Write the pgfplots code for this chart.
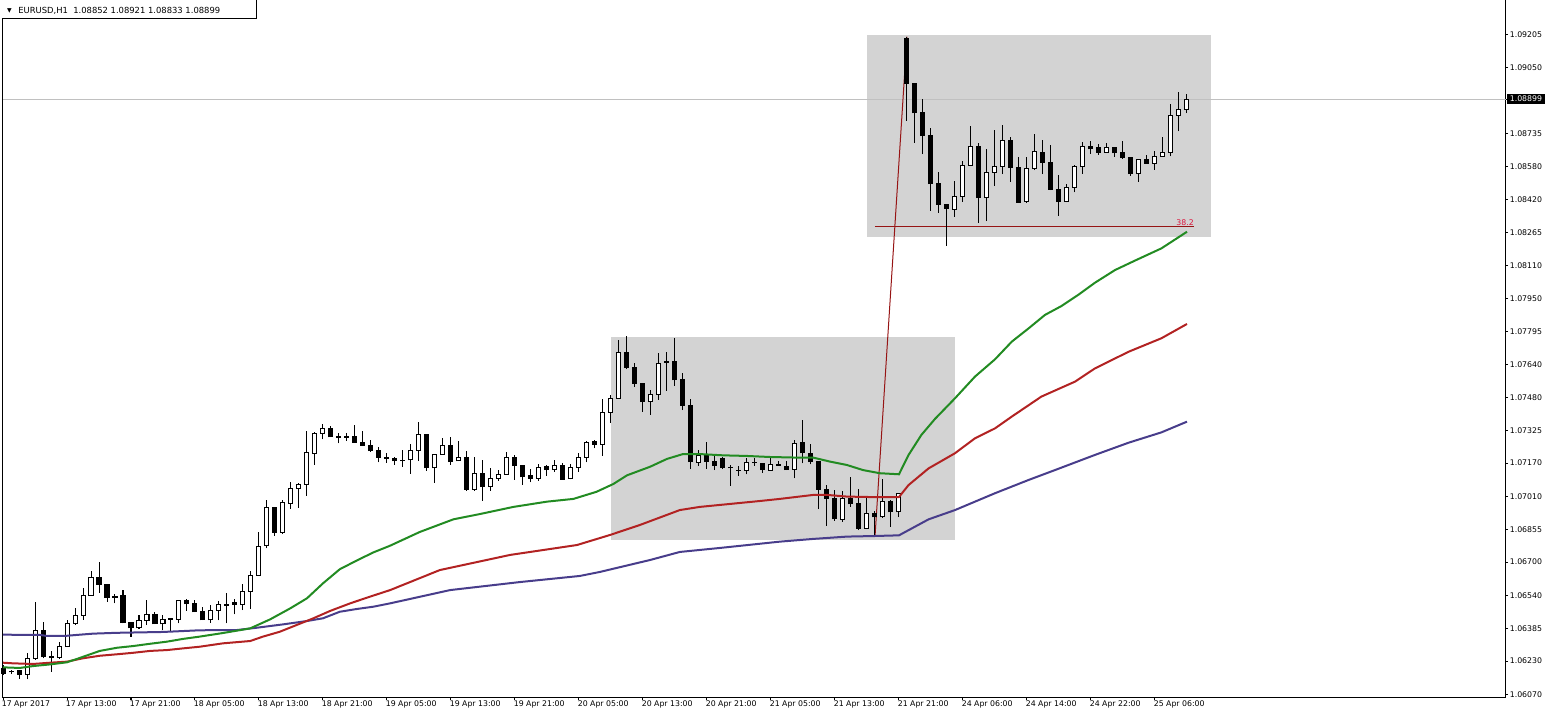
\documentclass[border=0pt]{standalone}
\usepackage{fontspec}
\setmainfont{DejaVu Sans}
\usepackage{pgfplots}
\usepackage{pgfplotstable}
\pgfplotsset{compat=1.18}
\usetikzlibrary{calc}

\definecolor{maGreen}{RGB}{34,139,34}
\definecolor{maRed}{RGB}{178,34,34}
\definecolor{maBlue}{RGB}{72,61,139}
\definecolor{boxGray}{RGB}{211,211,211}
\definecolor{priceGray}{RGB}{192,192,192}
\definecolor{fibLine}{RGB}{150,20,20}
\definecolor{fibText}{RGB}{220,20,60}

% EURUSD H1 candles, x = bar index, O H L C
\pgfplotstableread{
i O H L C
3 1.06167 1.06267 1.06143 1.06243
4 1.06243 1.06512 1.06235 1.06376
7 1.06246 1.06319 1.06241 1.06300
8 1.06298 1.06425 1.06296 1.06409
9 1.06409 1.06480 1.06400 1.06447
10 1.06447 1.06575 1.06425 1.06542
11 1.06542 1.06656 1.06540 1.06628
17 1.06388 1.06447 1.06383 1.06423
18 1.06423 1.06520 1.06400 1.06453
20 1.06407 1.06447 1.06376 1.06428
22 1.06428 1.06520 1.06409 1.06518
26 1.06426 1.06495 1.06412 1.06471
27 1.06471 1.06514 1.06423 1.06499
30 1.06498 1.06596 1.06472 1.06561
31 1.06561 1.06658 1.06479 1.06637
32 1.06637 1.06843 1.06635 1.06775
33 1.06778 1.06995 1.06765 1.06960
35 1.06841 1.06995 1.06833 1.06984
36 1.06979 1.07080 1.06954 1.07049
37 1.07049 1.07074 1.06958 1.07069
38 1.07069 1.07323 1.07015 1.07221
39 1.07217 1.07316 1.07162 1.07312
40 1.07312 1.07354 1.07283 1.07335
51 1.07185 1.07261 1.07120 1.07231
52 1.07231 1.07364 1.07180 1.07307
54 1.07148 1.07215 1.07077 1.07212
55 1.07212 1.07288 1.07210 1.07255
57 1.07181 1.07274 1.07179 1.07198
59 1.07046 1.07198 1.07039 1.07122
61 1.07058 1.07145 1.07039 1.07098
62 1.07098 1.07136 1.07086 1.07117
63 1.07117 1.07221 1.07115 1.07198
67 1.07099 1.07164 1.07086 1.07150
69 1.07139 1.07184 1.07129 1.07160
71 1.07096 1.07164 1.07093 1.07150
72 1.07150 1.07217 1.07129 1.07198
73 1.07198 1.07274 1.07174 1.07269
75 1.07259 1.07475 1.07204 1.07411
76 1.07411 1.07494 1.07362 1.07478
77 1.07478 1.07755 1.07476 1.07696
81 1.07462 1.07517 1.07399 1.07497
82 1.07497 1.07692 1.07470 1.07644
87 1.07174 1.07232 1.07156 1.07204
93 1.07135 1.07196 1.07117 1.07174
96 1.07136 1.07193 1.07134 1.07164
99 1.07141 1.07280 1.07097 1.07264
105 1.06903 1.07039 1.06892 1.07003
108 1.06860 1.07006 1.06856 1.06932
110 1.06915 1.07094 1.06910 1.06990
112 1.06939 1.07030 1.06913 1.07027
119 1.08376 1.08510 1.08341 1.08437
120 1.08437 1.08604 1.08412 1.08585
121 1.08585 1.08771 1.08583 1.08675
123 1.08431 1.08662 1.08320 1.08551
124 1.08551 1.08752 1.08488 1.08580
125 1.08580 1.08775 1.08543 1.08703
128 1.08412 1.08625 1.08407 1.08570
129 1.08570 1.08732 1.08562 1.08651
133 1.08412 1.08494 1.08409 1.08480
134 1.08480 1.08586 1.08456 1.08580
135 1.08578 1.08695 1.08545 1.08675
138 1.08646 1.08691 1.08644 1.08670
142 1.08545 1.08613 1.08507 1.08613
144 1.08594 1.08653 1.08564 1.08627
145 1.08627 1.08719 1.08625 1.08646
146 1.08646 1.08874 1.08627 1.08822
147 1.08822 1.08931 1.08746 1.08852
148 1.08852 1.08921 1.08833 1.08899
}\bull

\pgfplotstableread{
i O H L C
0 1.06195 1.06211 1.06164 1.06173
1 1.06181 1.06187 1.06168 1.06178
2 1.06187 1.06189 1.06146 1.06165
5 1.06376 1.06415 1.06243 1.06250
6 1.06250 1.06278 1.06179 1.06246
12 1.06628 1.06700 1.06554 1.06594
13 1.06594 1.06596 1.06512 1.06533
14 1.06536 1.06547 1.06504 1.06533
15 1.06542 1.06567 1.06409 1.06412
16 1.06414 1.06416 1.06345 1.06388
19 1.06452 1.06463 1.06405 1.06407
21 1.06431 1.06432 1.06374 1.06428
23 1.06518 1.06523 1.06469 1.06502
24 1.06502 1.06518 1.06462 1.06464
25 1.06464 1.06487 1.06424 1.06426
28 1.06499 1.06553 1.06409 1.06496
29 1.06506 1.06526 1.06452 1.06499
34 1.06960 1.06962 1.06825 1.06841
41 1.07335 1.07346 1.07293 1.07295
42 1.07295 1.07312 1.07264 1.07293
43 1.07297 1.07312 1.07276 1.07294
44 1.07297 1.07351 1.07267 1.07269
45 1.07269 1.07323 1.07251 1.07255
46 1.07255 1.07280 1.07224 1.07229
47 1.07229 1.07247 1.07174 1.07198
48 1.07198 1.07217 1.07172 1.07191
49 1.07191 1.07200 1.07162 1.07181
50 1.07183 1.07232 1.07153 1.07181
53 1.07307 1.07310 1.07134 1.07148
56 1.07255 1.07293 1.07162 1.07177
58 1.07198 1.07226 1.07039 1.07046
60 1.07122 1.07184 1.06992 1.07058
64 1.07198 1.07207 1.07091 1.07158
65 1.07158 1.07160 1.07067 1.07105
66 1.07110 1.07141 1.07079 1.07099
68 1.07152 1.07160 1.07110 1.07139
70 1.07160 1.07169 1.07093 1.07093
74 1.07272 1.07278 1.07240 1.07259
78 1.07696 1.07774 1.07616 1.07623
79 1.07623 1.07644 1.07533 1.07549
80 1.07549 1.07551 1.07414 1.07462
83 1.07652 1.07696 1.07513 1.07648
84 1.07652 1.07763 1.07538 1.07565
85 1.07565 1.07597 1.07422 1.07446
86 1.07446 1.07475 1.07142 1.07177
88 1.07204 1.07270 1.07142 1.07177
89 1.07180 1.07204 1.07137 1.07161
90 1.07190 1.07200 1.07142 1.07148
91 1.07150 1.07160 1.07063 1.07148
92 1.07137 1.07156 1.07110 1.07135
94 1.07174 1.07196 1.07158 1.07172
95 1.07169 1.07170 1.07125 1.07139
97 1.07163 1.07181 1.07159 1.07161
98 1.07156 1.07180 1.07137 1.07139
100 1.07269 1.07375 1.07169 1.07219
101 1.07217 1.07261 1.07164 1.07177
102 1.07177 1.07180 1.06952 1.07047
103 1.07047 1.07066 1.06873 1.07003
104 1.07003 1.07042 1.06897 1.06905
106 1.07003 1.07103 1.06963 1.06976
107 1.06976 1.07046 1.06852 1.06860
109 1.06932 1.06944 1.06820 1.06915
111 1.06990 1.06995 1.06868 1.06939
113 1.09188 1.09196 1.08797 1.08974
114 1.08974 1.08976 1.08692 1.08834
115 1.08834 1.08900 1.08638 1.08725
116 1.08725 1.08760 1.08368 1.08497
117 1.08497 1.08551 1.08360 1.08399
118 1.08399 1.08401 1.08203 1.08380
122 1.08675 1.08689 1.08312 1.08431
126 1.08703 1.08720 1.08507 1.08575
127 1.08575 1.08625 1.08407 1.08410
130 1.08646 1.08705 1.08543 1.08599
131 1.08599 1.08680 1.08467 1.08472
132 1.08472 1.08537 1.08345 1.08412
136 1.08675 1.08700 1.08640 1.08663
137 1.08670 1.08684 1.08635 1.08646
139 1.08670 1.08672 1.08626 1.08644
140 1.08646 1.08700 1.08616 1.08621
141 1.08621 1.08623 1.08535 1.08545
143 1.08613 1.08632 1.08594 1.08594
}\bear

\newcommand\tickfont{\fontsize{3.9}{4.7}\selectfont}

\begin{document}
\begin{tikzpicture}
\begin{axis}[
	name=main,
	scale only axis,
	width=751.5pt, height=348.75pt,
	xmin=-0.0375, xmax=187.84,
	ymin=1.060567, ymax=1.093698,
	clip=false,
	axis x line*=bottom, axis y line*=right,
	axis line style={black, line width=0.5pt},
	tick align=outside,
	major tick length=1.25pt,
	tick style={black, line width=0.5pt},
	scaled y ticks=false,
	xtick={0,8,...,144},
	xticklabels={17 Apr 2017, 17 Apr 13:00, 17 Apr 21:00, 18 Apr 05:00, 18 Apr 13:00, 18 Apr 21:00, 19 Apr 05:00, 19 Apr 13:00, 19 Apr 21:00, 20 Apr 05:00, 20 Apr 13:00, 20 Apr 21:00, 21 Apr 05:00, 21 Apr 13:00, 21 Apr 21:00, 24 Apr 06:00, 24 Apr 14:00, 24 Apr 22:00, 25 Apr 06:00},
	ytick={1.06070,1.06230,1.06385,1.06540,1.06700,1.06855,1.07010,1.07170,1.07325,1.07480,1.07640,1.07795,1.07950,1.08110,1.08265,1.08420,1.08580,1.08735,1.09050,1.09205},
	yticklabels={1.06070,1.06230,1.06385,1.06540,1.06700,1.06855,1.07010,1.07170,1.07325,1.07480,1.07640,1.07795,1.07950,1.08110,1.08265,1.08420,1.08580,1.08735,1.09050,1.09205},
	extra y ticks={1.08899},
	extra y tick labels={1.08899},
	extra y tick style={yticklabel style={fill=black, text=white, inner xsep=1.5pt, inner ysep=0.9pt, xshift=-1.5pt}},
	ticklabel style={font=\tickfont},
	xticklabel style={anchor=north west, inner sep=0pt, xshift=-0.8pt},
	yticklabel style={anchor=west, inner sep=0pt, xshift=0.6pt},
	candle/.style={draw=none, mark=none, forget plot,
		error bars/y dir=plus, error bars/y explicit, error bars/error mark=none},
	]

% boxes and lines drawn on the chart
\addplot[fill=boxGray, draw=none] coordinates {(76,1.06805) (119,1.06805) (119,1.07769) (76,1.07769)};
\addplot[fill=boxGray, draw=none] coordinates {(108,1.08244) (151,1.08244) (151,1.09204) (108,1.09204)};
\addplot[priceGray, line width=0.5pt] coordinates {(-0.0375,1.08899) (187.84,1.08899)};
\addplot[fibLine, line width=0.5pt] coordinates {(109,1.08292) (148.9,1.08292)};
\addplot[fibLine, line width=0.5pt] coordinates {(109,1.06820) (113,1.09196)};

% wicks
\addplot[candle, error bars/error bar style={draw=black, line width=0.5pt}]
	table[x=i, y=L, y error plus expr={\thisrow{H}-\thisrow{L}}] {\bull};
\addplot[candle, error bars/error bar style={draw=black, line width=0.5pt}]
	table[x=i, y=L, y error plus expr={\thisrow{H}-\thisrow{L}}] {\bear};

% bodies
\addplot[candle, error bars/error bar style={draw=black, line width=2.5pt, shorten <=-0.25pt, shorten >=-0.25pt}]
	table[x=i, y=O, y error plus expr={\thisrow{C}-\thisrow{O}}] {\bull};
\addplot[candle, error bars/error bar style={draw=black, line width=2.5pt, shorten <=-0.25pt, shorten >=-0.25pt}]
	table[x=i, y=C, y error plus expr={\thisrow{O}-\thisrow{C}}] {\bear};
\addplot[candle, error bars/error bar style={draw=white, line width=1.5pt, shorten <=0.25pt, shorten >=0.25pt}]
	table[x=i, y=O, y error plus expr={\thisrow{C}-\thisrow{O}}] {\bull};

% moving averages
\addplot[maBlue, line width=1pt] coordinates {
(0,1.06355) (4.6,1.06354) (5.5,1.06349) (8,1.06350) (9.25,1.06354) (11.25,1.06360) (14.25,1.06364) (20,1.06368) (24.6,1.06376) (29.2,1.06377) (31.7,1.06388) (35,1.06404) (38,1.06420) (40,1.06433) (42.1,1.06464) (44.2,1.06477) (46.3,1.06488) (48.4,1.06504) (55.9,1.06567) (64.6,1.06605) (72.1,1.06634) (74.6,1.06653) (80.9,1.06710) (84.6,1.06748) (89.6,1.06767) (97.1,1.06797) (101.3,1.06810) (105.5,1.06821) (109.2,1.06824) (112,1.06827) (115.7,1.06903) (119,1.06947) (124,1.07027) (128.2,1.07090) (131.5,1.07137) (136.5,1.07209) (140.7,1.07267) (144.8,1.07316) (148,1.07367)};
\addplot[maRed, line width=1pt] coordinates {
(0,1.06222) (1.25,1.06219) (3.75,1.06216) (5.9,1.06222) (8,1.06227) (10,1.06243) (12.1,1.06255) (14.25,1.06262) (16.25,1.06269) (18.4,1.06278) (20.5,1.06282) (22.5,1.06290) (24.6,1.06298) (27.5,1.06314) (30.9,1.06325) (32.5,1.06346) (34.6,1.06369) (36.7,1.06401) (38.8,1.06433) (40.9,1.06468) (43.4,1.06504) (45.9,1.06536) (48.4,1.06567) (54.6,1.06662) (63.4,1.06734) (71.75,1.06781) (75.9,1.06829) (79.6,1.06876) (84.6,1.06947) (87.1,1.06962) (94.6,1.06990) (97.1,1.07000) (101.3,1.07019) (103,1.07019) (105.5,1.07011) (109.6,1.07008) (112,1.07009) (113.2,1.07066) (115.7,1.07145) (119,1.07217) (121.5,1.07288) (124,1.07335) (126.1,1.07391) (129.8,1.07486) (134,1.07557) (136.5,1.07620) (140.7,1.07699) (144.8,1.07763) (148,1.07831)};
\addplot[maGreen, line width=1pt] coordinates {
(0,1.06200) (2.1,1.06197) (3.75,1.06206) (5.9,1.06214) (8,1.06224) (9.25,1.06240) (10.9,1.06262) (12.1,1.06278) (14.25,1.06293) (16.25,1.06301) (18.4,1.06312) (20.5,1.06322) (22.5,1.06335) (24.6,1.06346) (27.5,1.06363) (30.9,1.06385) (33.4,1.06428) (35.9,1.06480) (38,1.06528) (40,1.06599) (42.1,1.06666) (44.2,1.06707) (46.3,1.06746) (48.4,1.06778) (52.1,1.06843) (56.3,1.06903) (59.6,1.06928) (63.8,1.06962) (68,1.06987) (71.3,1.07000) (74.2,1.07034) (76.3,1.07071) (78,1.07112) (80.9,1.07153) (83,1.07190) (85,1.07213) (87.1,1.07213) (90,1.07207) (93,1.07204) (95.9,1.07199) (99.6,1.07196) (101.3,1.07196) (103.4,1.07177) (105.5,1.07161) (107.5,1.07137) (109.6,1.07122) (112,1.07117) (113.2,1.07209) (114.8,1.07304) (116.5,1.07380) (119,1.07478) (121.5,1.07581) (124,1.07663) (126.1,1.07747) (128.2,1.07810) (130.25,1.07874) (132.3,1.07916) (134.4,1.07969) (136.5,1.08027) (139,1.08087) (141.5,1.08132) (144.8,1.08190) (148,1.08269)};

\node[anchor=south east, inner sep=0pt, text=fibText, font=\tickfont] at (axis cs:148.9,1.08296) {38.2};

% window frame and symbol header
\draw[black, line width=0.5pt] (rel axis cs:0,0) -- (rel axis cs:0,0.9738) -- (rel axis cs:0.169,0.9738) -- (rel axis cs:0.169,1);
\node[inner sep=0pt, font=\fontsize{3}{3}\selectfont] at (rel axis cs:0.00452,0.9842) {▼};
\node[anchor=west, inner sep=0pt, font=\fontsize{4.2}{5}\selectfont] at (rel axis cs:0.01018,0.9842) {EURUSD,H1\ \ 1.08852 1.08921 1.08833 1.08899};
\end{axis}
\pgfresetboundingbox
\path[use as bounding box] ($(main.south west)+(-1.35pt,-10.25pt)$) rectangle ($(main.north east)+(21.15pt,0pt)$);
\end{tikzpicture}
\end{document}
